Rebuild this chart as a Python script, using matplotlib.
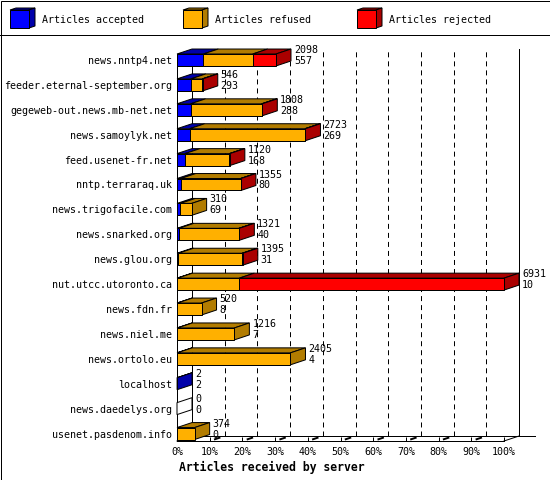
import matplotlib
matplotlib.use('Agg')
import matplotlib.pyplot as plt
from matplotlib.patches import Polygon, Rectangle

# data (articles per server)
servers = ['news.nntp4.net', 'feeder.eternal-september.org', 'gegeweb-out.news.mb-net.net',
           'news.samoylyk.net', 'feed.usenet-fr.net', 'nntp.terraraq.uk',
           'news.trigofacile.com', 'news.snarked.org', 'news.glou.org',
           'nut.utcc.utoronto.ca', 'news.fdn.fr', 'news.niel.me', 'news.ortolo.eu',
           'localhost', 'news.daedelys.org', 'usenet.pasdenom.info']
accepted = [557, 293, 288, 269, 168, 80, 69, 40, 31, 10, 8, 7, 4, 2, 0, 0]
refused = [1047, 241, 1505, 2442, 942, 1267, 241, 1272, 1350, 1310, 512, 1209, 2401, 0, 0, 374]
rejected = [494, 12, 15, 12, 10, 8, 0, 9, 14, 5611, 0, 0, 0, 0, 0, 0]
series_names = ['Articles accepted', 'Articles refused', 'Articles rejected']
xticks = list(range(0, 101, 10))
xtick_labels = ['%d%%' % t for t in xticks]

front_col = ['#0000ff', '#ffb000', '#ff0000']
dark_col = ['#0000aa', '#b27c00', '#aa0000']
mono = 'DejaVu Sans Mono'
fs = 7.2
LW = 0.72
plt.rcParams['lines.scale_dashes'] = False

fig = plt.figure(figsize=(5.5, 4.8), dpi=100, facecolor='white')

# decoration layer in pixel coords: frame + legend
deco = fig.add_axes([0, 0, 1, 1])
deco.set_xlim(0, 550)
deco.set_ylim(480, 0)
deco.axis('off')
deco.add_patch(Rectangle((0.5, 0.5), 549, 479, fill=False, ec='black', lw=LW))
deco.plot([0, 550], [35, 35], color='black', lw=LW)
for k, name in enumerate(series_names):
    bx = [10, 183, 357][k]
    deco.add_patch(Polygon([(bx, 10), (bx + 19, 10), (bx + 25, 8), (bx + 6, 8)],
                           fc=dark_col[k], ec='black', lw=LW))
    deco.add_patch(Polygon([(bx + 19, 10), (bx + 19, 28), (bx + 25, 26), (bx + 25, 8)],
                           fc=dark_col[k], ec='black', lw=LW))
    deco.add_patch(Rectangle((bx, 10), 19, 18, fc=front_col[k], ec='black', lw=LW))
    deco.text(bx + 32, 20, name, family=mono, fontsize=fs, va='center', ha='left')

# main plot area = front plane of the 3d box
ax = fig.add_axes([177 / 550, 39 / 480, 327 / 550, 387 / 480])
ax.set_facecolor('none')
ytop, ybot = -0.24, 15.30
ax.set_xlim(0, 100)
ax.set_ylim(ybot, ytop)
DX = 15 / 327 * 100   # depth offset in x units
DY = 0.2              # depth offset in row units
h = 0.24

for s in ['top', 'right']:
    ax.spines[s].set_visible(False)
for s in ['left', 'bottom']:
    ax.spines[s].set_linewidth(LW)

# back walls, floor and grid
ax.plot([DX, DX], [ybot - DY, ytop - DY], color='black', lw=LW, clip_on=False, zorder=1)
ax.plot([100 + DX] * 2, [ybot - DY, ytop - DY], color='black', lw=LW, clip_on=False, zorder=1)
ax.plot([DX, 109.5], [ybot - DY] * 2, color='black', lw=LW, clip_on=False, zorder=1)
ax.plot([0, DX], [ybot, ybot - DY], color='black', lw=LW, clip_on=False, zorder=1)
ax.plot([100, 100 + DX], [ybot, ybot - DY], color='black', lw=LW, clip_on=False, zorder=1)
for p in xticks[1:-1]:
    ax.plot([p + DX] * 2, [ybot - DY, ytop - DY], color='black', lw=LW,
            dashes=(3.6, 2.9), clip_on=False, zorder=1)
    ax.plot([p + 0.35 * DX, p + 0.65 * DX], [ybot - 0.35 * DY, ybot - 0.65 * DY],
            color='black', lw=1.4, clip_on=False, zorder=1)

totals = [a + r + j for a, r, j in zip(accepted, refused, rejected)]
vmax = max(totals)
for i in range(len(servers)):
    vals = [accepted[i], refused[i], rejected[i]]
    cum = 0
    side = 'white'
    for j, v in enumerate(vals):
        if v <= 0:
            continue
        x0 = cum / vmax * 100
        x1 = (cum + v) / vmax * 100
        ax.add_patch(Polygon([(x0, i - h), (x1, i - h), (x1 + DX, i - h - DY), (x0 + DX, i - h - DY)],
                             fc=dark_col[j], ec='black', lw=LW, clip_on=False, zorder=3))
        ax.add_patch(Rectangle((x0, i - h), x1 - x0, 2 * h, fc=front_col[j], ec='black',
                               lw=LW, clip_on=False, zorder=4))
        cum += v
        side = dark_col[j]
    xe = cum / vmax * 100
    ax.add_patch(Polygon([(xe, i - h), (xe, i + h), (xe + DX, i + h - DY), (xe + DX, i - h - DY)],
                         fc=side, ec='black', lw=LW, clip_on=False, zorder=3))
    ax.text(xe + DX + 0.9, i - 0.40, str(totals[i]), family=mono, fontsize=fs,
            va='center', ha='left', clip_on=False, zorder=5)
    ax.text(xe + DX + 0.9, i + 0.04, str(accepted[i]), family=mono, fontsize=fs,
            va='center', ha='left', clip_on=False, zorder=5)

ax.set_yticks(range(len(servers)))
ax.set_yticklabels(servers, family=mono, fontsize=fs)
ax.tick_params(axis='y', length=0, pad=3.6)
ax.set_xticks(xticks)
ax.set_xticklabels(xtick_labels, family=mono, fontsize=fs)
ax.tick_params(axis='x', direction='in', length=2.9, width=LW, pad=4)

fig.text(179 / 550, 1 - 467 / 480, 'Articles received by server', family=mono,
         fontsize=8.3, fontweight='bold', va='center', ha='left')

fig.savefig('out.png', dpi=100)
